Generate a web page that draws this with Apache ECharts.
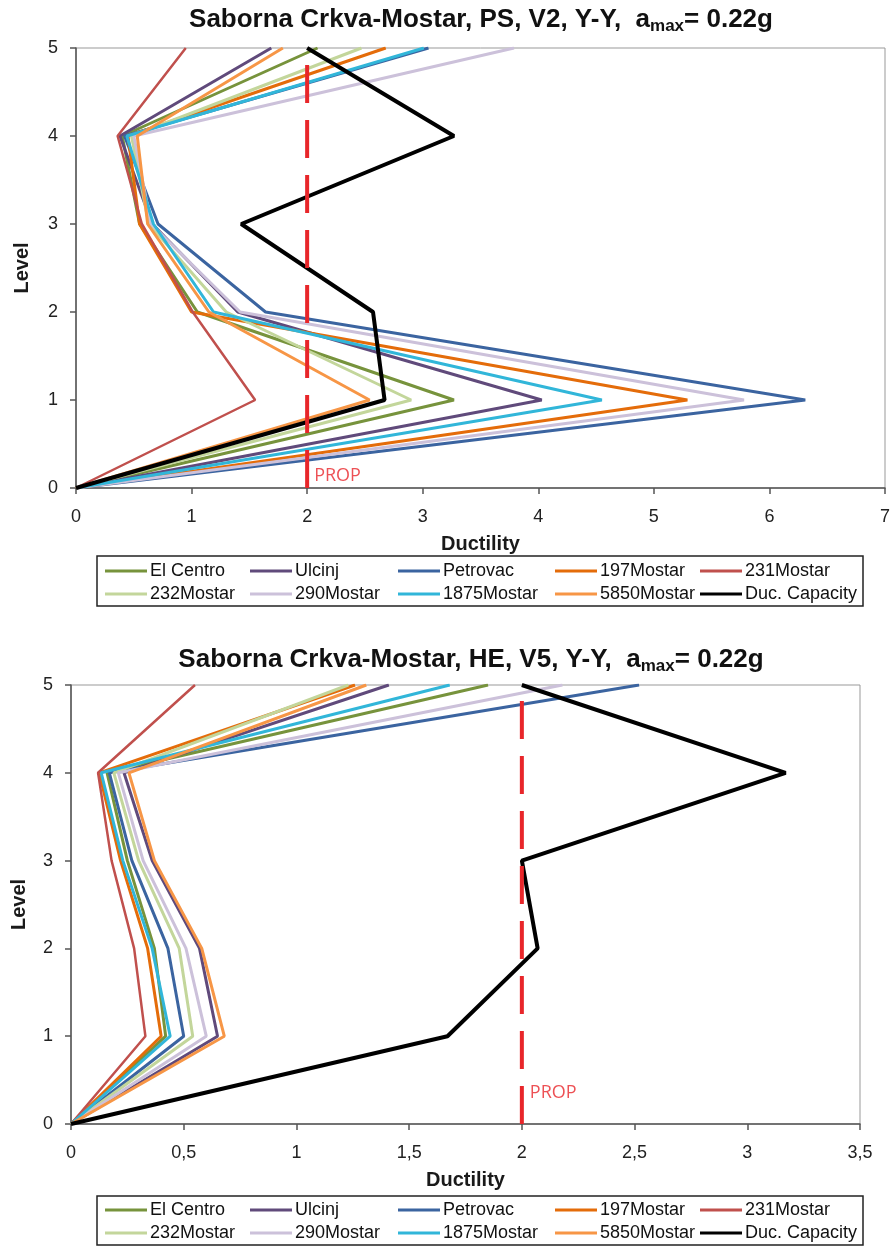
<!DOCTYPE html>
<html>
<head>
<meta charset="utf-8">
<script src="https://cdn.jsdelivr.net/npm/echarts@6/dist/echarts.min.js"></script>
<style>
html,body{margin:0;padding:0;background:#fff;}
#c{width:894px;height:1247px;}
</style>
</head>
<body>
<div id="c"></div>
<script>
// ---------- data ----------
const levels = [0, 1, 2, 3, 4, 5];
const seriesNames = ['El Centro', 'Ulcinj', 'Petrovac', '197Mostar', '231Mostar',
                     '232Mostar', '290Mostar', '1875Mostar', '5850Mostar', 'Duc. Capacity'];

// Chart 1: PS, V2, Y-Y  (ductility per level 0..5)
const elCentro_PS = [0, 3.27, 1.05, 0.55, 0.40, 2.09];
const ulcinj_PS   = [0, 4.03, 1.40, 0.66, 0.38, 1.69];
const petrovac_PS = [0, 6.31, 1.64, 0.71, 0.42, 3.05];
const m197_PS     = [0, 5.29, 1.00, 0.55, 0.45, 2.68];
const m231_PS     = [0, 1.55, 1.01, 0.57, 0.36, 0.95];
const m232_PS     = [0, 2.90, 1.30, 0.63, 0.48, 2.47];
const m290_PS     = [0, 5.78, 1.42, 0.65, 0.50, 3.79];
const m1875_PS    = [0, 4.55, 1.19, 0.67, 0.44, 3.01];
const m5850_PS    = [0, 2.54, 1.15, 0.62, 0.53, 1.79];
const ducCap_PS   = [0, 2.67, 2.57, 1.43, 3.27, 2.00];

// Chart 2: HE, V5, Y-Y
const elCentro_HE = [0, 0.42, 0.37, 0.25, 0.16, 1.85];
const ulcinj_HE   = [0, 0.65, 0.57, 0.36, 0.235, 1.41];
const petrovac_HE = [0, 0.50, 0.43, 0.27, 0.17, 2.52];
const m197_HE     = [0, 0.40, 0.34, 0.22, 0.125, 1.26];
const m231_HE     = [0, 0.33, 0.28, 0.18, 0.12, 0.55];
const m232_HE     = [0, 0.54, 0.48, 0.30, 0.19, 1.23];
const m290_HE     = [0, 0.60, 0.51, 0.32, 0.21, 2.18];
const m1875_HE    = [0, 0.44, 0.36, 0.23, 0.134, 1.68];
const m5850_HE    = [0, 0.68, 0.58, 0.37, 0.257, 1.31];
const ducCap_HE   = [0, 1.67, 2.07, 2.00, 3.17, 2.00];

// PROP reference line (ductility = 2)
const propX = 2;
const propLevels = [0, 5];

const xTicks1 = { min: 0, max: 7, interval: 1 };
const xTicks2 = { min: 0, max: 3.5, interval: 0.5 };
const yTicks = { min: 0, max: 5, interval: 1 };

// ---------- style ----------
const FONT = '"Liberation Sans", Arial, sans-serif';
const colors = ['#77933C', '#604A7B', '#3B64A0', '#E46C0A', '#C0504D',
                '#C3D69B', '#CCC1DA', '#31B6D9', '#F79646', '#000000'];
const widths = [3, 3, 3, 3, 2.5, 3, 3, 3, 3, 4];

const data1 = [elCentro_PS, ulcinj_PS, petrovac_PS, m197_PS, m231_PS, m232_PS, m290_PS, m1875_PS, m5850_PS, ducCap_PS];
const data2 = [elCentro_HE, ulcinj_HE, petrovac_HE, m197_HE, m231_HE, m232_HE, m290_HE, m1875_HE, m5850_HE, ducCap_HE];

function buildSeries(dataSet, idx) {
  const out = dataSet.map((xs, i) => ({
    type: 'line',
    name: seriesNames[i],
    xAxisIndex: idx, yAxisIndex: idx,
    data: xs.map((x, k) => [x, levels[k]]),
    symbol: 'none', showSymbol: false,
    lineStyle: { color: colors[i], width: widths[i] },
    itemStyle: { color: colors[i] },
    z: 2 + i * 0.01,
    animation: false,
    silent: true
  }));
  out.push({
    type: 'line',
    name: 'PROP',
    xAxisIndex: idx, yAxisIndex: idx,
    data: propLevels.map(l => [propX, l]),
    symbol: 'none', showSymbol: false,
    lineStyle: { color: '#E8262A', width: 4, type: [38, 17] },
    itemStyle: { color: '#E8262A' },
    z: 4,
    animation: false,
    silent: true
  });
  out.push({
    type: 'scatter',
    name: 'PROP label',
    xAxisIndex: idx, yAxisIndex: idx,
    data: [[propX, propLevels[0]]],
    symbolSize: 0,
    label: {
      show: true, formatter: 'PROP', position: 'right',
      offset: idx === 0 ? [2, -12] : [3, -31],
      color: '#E8262A', fontSize: 18, fontFamily: '"Open Sans", "Noto Sans", sans-serif'
    },
    z: 5, animation: false, silent: true
  });
  return out;
}

function xAxis(idx, ticks, fmt) {
  return {
    type: 'value', gridIndex: idx,
    min: ticks.min, max: ticks.max, interval: ticks.interval,
    axisLine: { show: true, onZero: false, lineStyle: { color: '#555', width: 1.5 } },
    axisTick: { show: true, inside: false, length: 6, lineStyle: { color: '#555', width: 1.5 } },
    splitLine: { show: false },
    name: 'Ductility', nameLocation: 'middle', nameGap: 46,
    nameTextStyle: { fontSize: 20, fontWeight: 'bold', color: '#1a1a1a', fontFamily: FONT },
    axisLabel: { color: '#222', fontSize: 18, fontFamily: FONT, margin: 20, formatter: fmt }
  };
}
function yAxis(idx, gap) {
  return {
    type: 'value', gridIndex: idx,
    min: yTicks.min, max: yTicks.max, interval: yTicks.interval,
    axisLine: { show: true, onZero: false, lineStyle: { color: '#555', width: 1.5 } },
    axisTick: { show: true, inside: false, length: 6, lineStyle: { color: '#555', width: 1.5 } },
    splitLine: { show: false },
    name: 'Level', nameLocation: 'middle', nameGap: gap, nameRotate: 90,
    nameTextStyle: { fontSize: 20, fontWeight: 'bold', color: '#1a1a1a', fontFamily: FONT },
    axisLabel: { color: '#222', fontSize: 18, fontFamily: FONT, margin: 18 }
  };
}

// legend cells: column x of line start, row centres
const legendCols = [105, 250, 398, 555, 700];
function legends(rowCenters) {
  return seriesNames.map((n, i) => ({
    data: [n],
    left: legendCols[i % 5],
    top: rowCenters[Math.floor(i / 5)] - 9,
    icon: 'rect',
    itemWidth: 42, itemHeight: 3, itemGap: 0,
    padding: 0,
    selectedMode: false,
    textStyle: { fontSize: 18, lineHeight: 18, color: '#111', fontFamily: FONT, padding: [0, 0, 0, -2] }
  }));
}

function titleGraphic(x, y, label) {
  return {
    type: 'text', x: x, y: y, silent: true,
    style: {
      text: '{a|Saborna Crkva-Mostar, ' + label + ', Y-Y,  a}{s|max}{a|= 0.22g}',
      align: 'center', verticalAlign: 'middle',
      rich: {
        a: { fontSize: 26, fontWeight: 'bold', fontFamily: FONT, fill: '#111', color: '#111', lineHeight: 28, verticalAlign: 'top' },
        s: { fontSize: 17, fontWeight: 'bold', fontFamily: FONT, fill: '#111', color: '#111', lineHeight: 17, padding: [13, 0, 0, 0], verticalAlign: 'bottom' }
      }
    }
  };
}
function boxGraphic(x, y, w, h) {
  return { type: 'rect', silent: true, shape: { x: x, y: y, width: w, height: h },
           style: { fill: 'none', stroke: '#222', lineWidth: 1.5 } };
}

const chart = echarts.init(document.getElementById('c'), null, { renderer: 'canvas' });
chart.setOption({
  backgroundColor: '#fff',
  animation: false,
  graphic: [
    titleGraphic(481, 21, 'PS, V2'), titleGraphic(471, 661, 'HE, V5'),
    boxGraphic(97, 556, 766, 50), boxGraphic(97, 1196, 766, 49)
  ],
  grid: [
    { left: 76, top: 48, width: 809, height: 440, show: true, borderColor: '#999', borderWidth: 1, backgroundColor: 'transparent' },
    { left: 71, top: 685, width: 789, height: 439, show: true, borderColor: '#999', borderWidth: 1, backgroundColor: 'transparent' }
  ],
  xAxis: [
    xAxis(0, xTicks1, v => String(v)),
    xAxis(1, xTicks2, v => String(v).replace('.', ','))
  ],
  yAxis: [yAxis(0, 44), yAxis(1, 42)],
  legend: legends([571, 594]).concat(legends([1210, 1233])),
  series: buildSeries(data1, 0).concat(buildSeries(data2, 1))
});
</script>
</body>
</html>
